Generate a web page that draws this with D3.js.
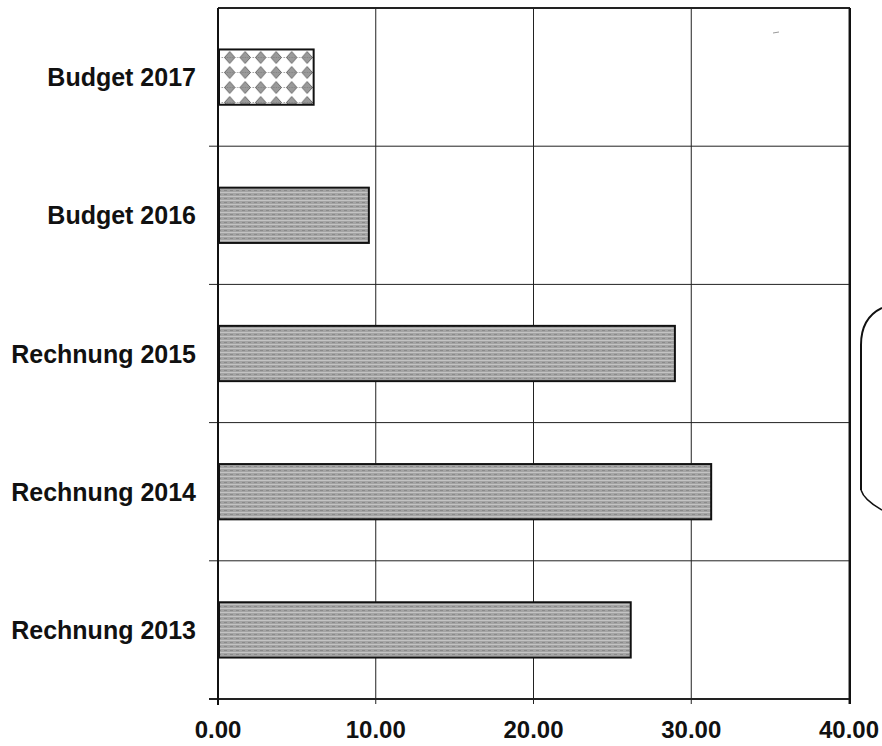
<!DOCTYPE html>
<html>
<head>
<meta charset="utf-8">
<script src="https://cdn.jsdelivr.net/npm/d3@7"></script>
<style>
body{margin:0;background:#fff}
text{font-family:"Liberation Sans",Arial,sans-serif;font-weight:bold;fill:#111}
</style>
</head>
<body>
<div id="chart"></div>
<script>
var categories=["Budget 2017","Budget 2016","Rechnung 2015","Rechnung 2014","Rechnung 2013"]
var values=[6.0,9.5,28.9,31.2,26.1]
var tickValues=[0,10,20,30,40]
var tickLabels=["0.00","10.00","20.00","30.00","40.00"]

var W=882,H=746
var m={left:218,right:33,top:8,bottom:47}

var svg=d3.select("#chart").append("svg").attr("width",W).attr("height",H)

var defs=svg.append("defs")
// grey texture
var pg=defs.append("pattern").attr("id","grey").attr("patternUnits","userSpaceOnUse").attr("width",6).attr("height",4)
pg.append("rect").attr("width",6).attr("height",4).attr("fill","#a4a4a4")
pg.append("rect").attr("y",0).attr("width",6).attr("height",1).attr("fill","#c4c4c4")
pg.append("rect").attr("x",2).attr("y",2).attr("width",3).attr("height",1).attr("fill","#8a8a8a")
// diamonds
var pd=defs.append("pattern").attr("id","diam").attr("patternUnits","userSpaceOnUse").attr("width",15.5).attr("height",15).attr("x",222).attr("y",50)
pd.append("rect").attr("width",15.5).attr("height",15).attr("fill","#fff")
pd.append("path").attr("d","M7.7,1.5 L13,7.5 L7.7,13.5 L2.4,7.5Z").attr("fill","#9a9a9a").attr("stroke","#555").attr("stroke-width",0.8)
pd.append("path").attr("d","M0,7.5 H15.5").attr("stroke","#666").attr("stroke-width",0.6).attr("stroke-dasharray","1,1.5")

var x=d3.scaleLinear().domain([0,40]).range([m.left,W-m.right])
var y=d3.scaleBand().domain(categories).range([m.top,H-m.bottom]).paddingInner(0.6).paddingOuter(0.3)

var step=y.step()
// grid lines
var g=svg.append("g")
g.selectAll("line.v").data(tickValues.slice(1)).enter().append("line")
	.attr("x1",function(d){return x(d)}).attr("x2",function(d){return x(d)})
	.attr("y1",m.top).attr("y2",H-m.bottom+5)
	.attr("stroke","#222").attr("stroke-width",1)
g.selectAll("line.h").data(d3.range(0,categories.length+1)).enter().append("line")
	.attr("x1",function(d){return d==0?x(0):x(0)-9}).attr("x2",x(40)+1)
	.attr("y1",function(d){return m.top+d*step}).attr("y2",function(d){return m.top+d*step})
	.attr("stroke","#222").attr("stroke-width",function(d){return d==0||d==categories.length?2:1})
// left axis
svg.append("line").attr("x1",x(0)).attr("x2",x(0)).attr("y1",m.top).attr("y2",H-m.bottom+6)
	.attr("stroke","#111").attr("stroke-width",2)
svg.append("line").attr("x1",x(40)+1).attr("x2",x(40)+1).attr("y1",m.top).attr("y2",H-m.bottom+5)
	.attr("stroke","#111").attr("stroke-width",2)

// bars
svg.selectAll("rect.bar").data(values).enter().append("rect")
	.attr("x",x(0)+1)
	.attr("y",function(d,i){return y(categories[i])})
	.attr("width",function(d){return x(d)-x(0)})
	.attr("height",y.bandwidth())
	.attr("fill",function(d,i){return i==0?"url(#diam)":"url(#grey)"})
	.attr("stroke","#111").attr("stroke-width",2)

// category labels
svg.selectAll("text.cat").data(categories).enter().append("text")
	.attr("x",196).attr("y",function(d){return y(d)+y.bandwidth()/2+9})
	.attr("text-anchor","end")
	.attr("font-size","25px").text(function(d){return d})

// tick labels
svg.selectAll("text.tick").data(tickValues).enter().append("text")
	.attr("x",function(d){return x(d)}).attr("y",738)
	.attr("text-anchor","middle").attr("font-size","24px")
	.text(function(d,i){return tickLabels[i]})

// bracket at right edge
svg.append("path").attr("d","M861,490 L861,345 Q861,318 882,308")
	.attr("fill","none").attr("stroke","#111").attr("stroke-width",2)
svg.append("path").attr("d","M861,490 Q864,500 882,510")
	.attr("fill","none").attr("stroke","#111").attr("stroke-width",1.5)
svg.append("line").attr("x1",773).attr("x2",779).attr("y1",33).attr("y2",32).attr("stroke","#999")
</script>
</body>
</html>
